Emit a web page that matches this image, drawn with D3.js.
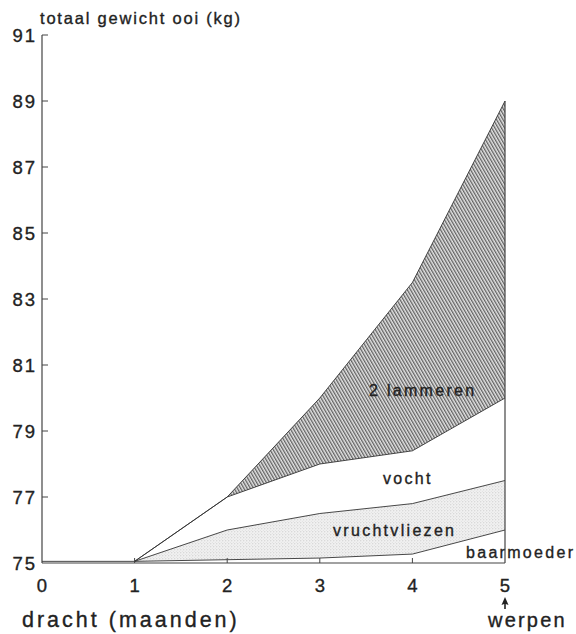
<!DOCTYPE html>
<html>
<head>
<meta charset="utf-8">
<script src="https://cdn.jsdelivr.net/npm/d3@7"></script>
<style>
  html, body { margin: 0; padding: 0; background: #fff; }
  svg { display: block; }
  text { font-family: "Liberation Sans", Arial, sans-serif; fill: #222; stroke: #222; stroke-width: 0.35px; }
</style>
</head>
<body>
<svg id="chart" width="576" height="634"></svg>
<script>
// ---- data ----
const months = [0, 1, 2, 3, 4, 5];
const monthLabels = ["0", "1", "2", "3", "4", "5"];
const baseWeight = [75.05, 75.05, 75.05, 75.05, 75.05, 75.05];
const baarmoeder = [75.05, 75.05, 75.1, 75.15, 75.27, 76.0];
const vruchtvliezen = [75.05, 75.05, 76.0, 76.5, 76.8, 77.5];
const vocht = [75.05, 75.05, 77.0, 78.0, 78.4, 80.0];
const lammeren = [75.05, 75.05, 77.0, 80.0, 83.5, 89.0];
const yTicks = [75, 77, 79, 81, 83, 85, 87, 89, 91];

// ---- layout ----
const svg = d3.select("#chart");
const x = d3.scaleLinear().domain([0, 5]).range([42, 505]);
const y = d3.scaleLinear().domain([75, 91]).range([563, 35]);

const defs = svg.append("defs");
// hatch pattern for lammeren
const hatch = defs.append("pattern")
  .attr("id", "hatch").attr("patternUnits", "userSpaceOnUse")
  .attr("width", 2.8).attr("height", 10)
  .attr("patternTransform", "rotate(-30)");
hatch.append("rect").attr("width", 2.8).attr("height", 10).attr("fill", "#e4e4e4");
hatch.append("line").attr("x1", 0.7).attr("y1", 0).attr("x2", 0.7).attr("y2", 10)
  .attr("stroke", "#444").attr("stroke-width", 1.05);
// stipple pattern for vruchtvliezen
const dots = defs.append("pattern")
  .attr("id", "dots").attr("patternUnits", "userSpaceOnUse")
  .attr("width", 3).attr("height", 3);
dots.append("rect").attr("width", 3).attr("height", 3).attr("fill", "#f1f1f1");
dots.append("circle").attr("cx", 0.8).attr("cy", 0.8).attr("r", 0.55).attr("fill", "#bdbdbd");
dots.append("circle").attr("cx", 2.3).attr("cy", 2.3).attr("r", 0.45).attr("fill", "#cfcfcf");

const idx = d3.range(months.length);
const areaBetween = (lo, hi) => d3.area()
  .x(i => x(months[i])).y0(i => y(lo[i])).y1(i => y(hi[i]))(idx);

svg.append("path").attr("d", areaBetween(baarmoeder, vruchtvliezen)).attr("fill", "url(#dots)");
svg.append("path").attr("d", areaBetween(vocht, lammeren)).attr("fill", "url(#hatch)");

// boundary lines
[[baseWeight, 0, 1], [baarmoeder, 1], [vruchtvliezen, 1], [vocht, 1], [lammeren, 1]].forEach(([arr, from, to]) => {
  const ids = to !== undefined ? idx.slice(from, to + 1) : idx.slice(from);
  svg.append("path")
    .attr("d", d3.line().x(i => x(months[i])).y(i => y(arr[i]))(ids))
    .attr("fill", "none").attr("stroke", "#333").attr("stroke-width", 0.9);
});

// axes
const ax = svg.append("g").attr("stroke", "#444").attr("fill", "none");
ax.append("line").attr("x1", x(0)).attr("x2", x(0)).attr("y1", y(91)).attr("y2", y(75)).attr("stroke-width", 1.2);
ax.append("line").attr("x1", x(0)).attr("x2", x(5)).attr("y1", y(75)).attr("y2", y(75)).attr("stroke-width", 1.2);
ax.append("line").attr("x1", x(5)).attr("x2", x(5)).attr("y1", y(lammeren[5])).attr("y2", y(75)).attr("stroke-width", 1.2);

// y ticks (inward) and labels
yTicks.forEach(t => {
  if (t > 75) ax.append("line").attr("x1", x(0)).attr("x2", x(0) + 6).attr("y1", y(t)).attr("y2", y(t)).attr("stroke-width", 1);
  svg.append("text").attr("x", 37).attr("y", y(t) + 7)
    .attr("text-anchor", "end").attr("font-size", 18.5).attr("letter-spacing", 2)
    .text(t);
});
// x ticks and labels
months.forEach((m, i) => {
  if (m > 0 && m < 5) ax.append("line").attr("x1", x(m)).attr("x2", x(m)).attr("y1", y(75)).attr("y2", y(75) - 5).attr("stroke-width", 1);
  svg.append("text").attr("x", x(m) + 1).attr("y", 592)
    .attr("text-anchor", "middle").attr("font-size", 18.5).attr("letter-spacing", 2)
    .text(monthLabels[i]);
});

// titles
svg.append("text").attr("x", 40).attr("y", 24).attr("font-size", 16.5).attr("letter-spacing", 1.8)
  .text("totaal gewicht ooi (kg)");
svg.append("text").attr("x", 22).attr("y", 627).attr("font-size", 21.5).attr("letter-spacing", 3)
  .text("dracht (maanden)");
svg.append("text").attr("x", 488).attr("y", 627).attr("font-size", 20).attr("letter-spacing", 2.2)
  .text("werpen");
// arrow
svg.append("path")
  .attr("d", d3.line()([[x(5) - 3.5, 605], [x(5), 597], [x(5) + 3.5, 605], [x(5) + 0.8, 604], [x(5) + 0.8, 609], [x(5) - 0.8, 609], [x(5) - 0.8, 604]]) + "Z")
  .attr("fill", "#222");

// area labels
const lbl = (txt, xx, yy) => svg.append("text").attr("x", xx).attr("y", yy)
  .attr("font-size", 16).attr("letter-spacing", 2.3).text(txt);
lbl("2 lammeren", 369, 396);
lbl("vocht", 383, 484);
lbl("vruchtvliezen", 333, 536);
lbl("baarmoeder", 466, 558);
</script>
</body>
</html>
